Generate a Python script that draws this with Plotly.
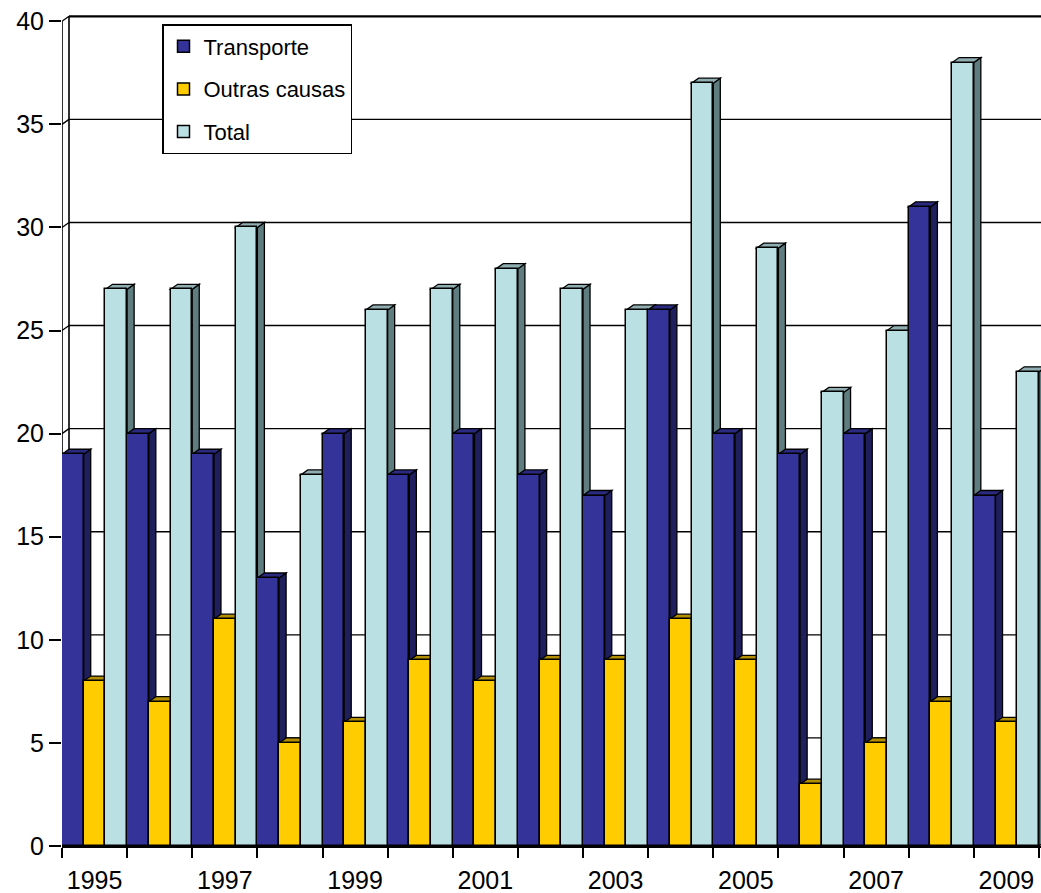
import plotly.graph_objects as go

# Source data
years = [1995, 1996, 1997, 1998, 1999, 2000, 2001, 2002, 2003, 2004, 2005, 2006, 2007, 2008, 2009]
transporte = [19, 20, 19, 13, 20, 18, 20, 18, 17, 26, 20, 19, 20, 31, 17]
outras_causas = [8, 7, 11, 5, 6, 9, 8, 9, 9, 11, 9, 3, 5, 7, 6]
total = [27, 27, 30, 18, 26, 27, 28, 27, 26, 37, 29, 22, 25, 38, 23]
series_names = ["Transporte", "Outras causas", "Total"]
y_ticks = [0, 5, 10, 15, 20, 25, 30, 35, 40]
x_labels = [1995, 1997, 1999, 2001, 2003, 2005, 2007, 2009]

# Styling: front, side and top face colours per series
front_colors = ["#333399", "#FFCC00", "#BBE0E3"]
side_colors = ["#1f1f5e", "#9a7b00", "#5f7c7e"]
top_colors = ["#2a2a80", "#b38f00", "#90aeb1"]

W, H = 1041, 893
M_L, M_R, M_T, M_B = 62, 0, 11, 47
plot_w = W - M_L - M_R
plot_h = H - M_T - M_B
group_px = 65.13
x0_range = years[0] - 0.5
x_range = [x0_range, x0_range + plot_w / group_px]
y_range = [0, 40.5]
py = plot_h / (y_range[1] - y_range[0])

# pseudo-3D depth offsets converted to data units
dxu = 7.0 / group_px
dyu = 5.0 / py
bar_w = 1.0 / 3.0

font_family = "Liberation Sans, Arial, sans-serif"

fig = go.Figure()

shapes = []
edge = dict(color="black", width=1.3)

# back wall: gridlines, front axis edge, back edge and connecting diagonals
for v in y_ticks:
    if v > 0:
        shapes.append(dict(type="line", xref="x", yref="y", layer="below",
                           x0=x0_range + dxu, x1=x_range[1], y0=v + dyu, y1=v + dyu,
                           line=dict(color="black", width=2.2 if v == y_ticks[-1] else 1.4)))
    shapes.append(dict(type="line", xref="x", yref="y", layer="below",
                       x0=x0_range, x1=x0_range + dxu, y0=v, y1=v + dyu,
                       line=dict(color="black", width=1.3)))
shapes.append(dict(type="line", xref="x", yref="y", layer="below",
                   x0=x0_range, x1=x0_range, y0=0, y1=y_ticks[-1],
                   line=dict(color="black", width=1.6)))
shapes.append(dict(type="line", xref="x", yref="y", layer="below",
                   x0=x0_range + dxu, x1=x0_range + dxu, y0=dyu, y1=y_ticks[-1] + dyu,
                   line=dict(color="black", width=1.6)))

# side and top faces, left to right, beneath the bar fronts
all_series = [transporte, outras_causas, total]
for i, yr in enumerate(years):
    for k, vals in enumerate(all_series):
        v = vals[i]
        xa = yr + (k - 1) * bar_w - bar_w / 2
        xb = xa + bar_w
        side = (f"M {xb},{0} L {xb},{v} L {xb + dxu},{v + dyu} "
                f"L {xb + dxu},{dyu} Z")
        top = (f"M {xa},{v} L {xb},{v} L {xb + dxu},{v + dyu} "
               f"L {xa + dxu},{v + dyu} Z")
        shapes.append(dict(type="path", xref="x", yref="y", layer="below", path=side,
                           fillcolor=side_colors[k], line=edge))
        shapes.append(dict(type="path", xref="x", yref="y", layer="below", path=top,
                           fillcolor=top_colors[k], line=edge))

for k, (name, vals) in enumerate(zip(series_names, all_series)):
    fig.add_trace(go.Bar(
        x=years, y=vals, name=name, legendgroup=name,
        marker=dict(color=front_colors[k], line=dict(color="black", width=1.5)),
    ))

fig.update_layout(
    width=W, height=H,
    margin=dict(l=M_L, r=M_R, t=M_T, b=M_B, pad=0),
    paper_bgcolor="white", plot_bgcolor="white",
    barmode="group", bargap=0, bargroupgap=0,
    shapes=shapes,
    font=dict(family=font_family, color="black"),
    showlegend=True,
    legend=dict(
        x=(162 - M_L) / plot_w, xanchor="left",
        y=(H - M_B - 24) / plot_h, yanchor="top",
        bgcolor="white", bordercolor="black", borderwidth=1.5,
        font=dict(size=22, family=font_family, color="black"),
        tracegroupgap=11, traceorder="grouped",
        itemwidth=30,
    ),
    xaxis=dict(
        range=x_range, showgrid=False, zeroline=False,
        showline=True, linecolor="black", linewidth=1.5,
        tickmode="array", tickvals=x_labels, ticktext=[str(y) for y in x_labels],
        ticks="outside", ticklen=11, tickcolor="rgba(0,0,0,0)",
        tickfont=dict(size=25, family=font_family, color="black"),
        minor=dict(tickmode="array", tickvals=[y - 0.5 for y in years] + [years[-1] + 0.5],
                   ticks="outside", ticklen=10, tickcolor="black", tickwidth=1.5,
                   showgrid=False),
    ),
    yaxis=dict(
        range=y_range, showgrid=False, zeroline=False, showline=False,
        tickmode="array", tickvals=y_ticks,
        ticks="outside", ticklen=12, tickcolor="black", tickwidth=1.5,
        tickfont=dict(size=25, family=font_family, color="black"),
    ),
)

fig.write_html("out.html")
